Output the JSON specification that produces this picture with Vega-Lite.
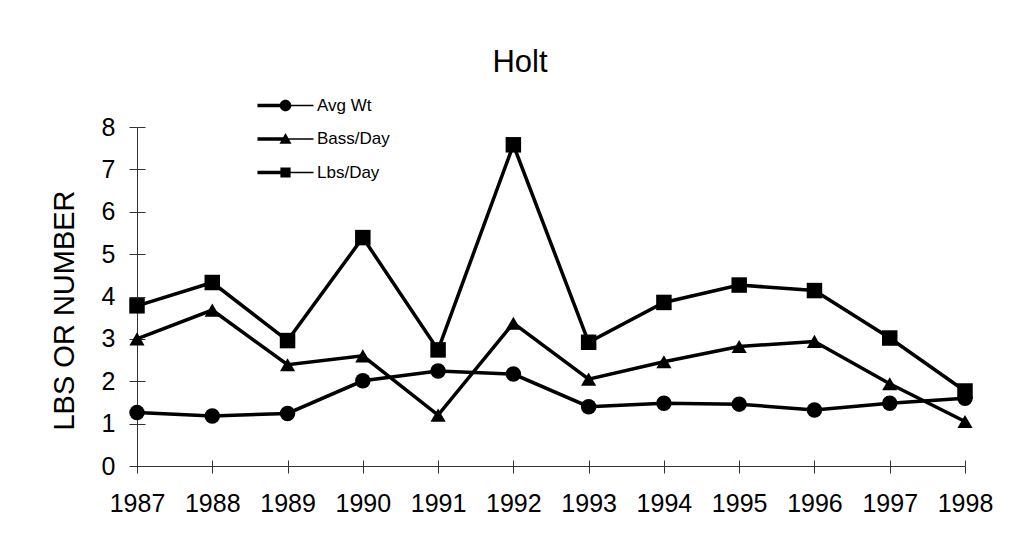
{
  "$schema": "https://vega.github.io/schema/vega-lite/v6.json",
  "width": 828,
  "height": 339,
  "autosize": {"type": "none"},
  "padding": {"left": 137, "top": 127, "right": 50, "bottom": 89},
  "background": "white",
  "config": {
    "view": {"stroke": null},
    "font": "Liberation Sans"
  },
  "title": {
    "text": "Holt",
    "fontSize": 31,
    "fontWeight": "normal",
    "font": "Liberation Sans",
    "color": "black",
    "anchor": "middle",
    "frame": "group",
    "dx": -31,
    "offset": 18.5
  },
  "data": {
    "values": [
      {"year": "1987", "series": "Avg Wt", "value": 1.26},
      {"year": "1988", "series": "Avg Wt", "value": 1.18},
      {"year": "1989", "series": "Avg Wt", "value": 1.24},
      {"year": "1990", "series": "Avg Wt", "value": 2.01},
      {"year": "1991", "series": "Avg Wt", "value": 2.24},
      {"year": "1992", "series": "Avg Wt", "value": 2.17},
      {"year": "1993", "series": "Avg Wt", "value": 1.40},
      {"year": "1994", "series": "Avg Wt", "value": 1.48},
      {"year": "1995", "series": "Avg Wt", "value": 1.46},
      {"year": "1996", "series": "Avg Wt", "value": 1.32},
      {"year": "1997", "series": "Avg Wt", "value": 1.48},
      {"year": "1998", "series": "Avg Wt", "value": 1.60},
      {"year": "1987", "series": "Bass/Day", "value": 3.00},
      {"year": "1988", "series": "Bass/Day", "value": 3.68},
      {"year": "1989", "series": "Bass/Day", "value": 2.39},
      {"year": "1990", "series": "Bass/Day", "value": 2.60},
      {"year": "1991", "series": "Bass/Day", "value": 1.20},
      {"year": "1992", "series": "Bass/Day", "value": 3.37},
      {"year": "1993", "series": "Bass/Day", "value": 2.05},
      {"year": "1994", "series": "Bass/Day", "value": 2.46},
      {"year": "1995", "series": "Bass/Day", "value": 2.82},
      {"year": "1996", "series": "Bass/Day", "value": 2.94},
      {"year": "1997", "series": "Bass/Day", "value": 1.94},
      {"year": "1998", "series": "Bass/Day", "value": 1.05},
      {"year": "1987", "series": "Lbs/Day", "value": 3.78},
      {"year": "1988", "series": "Lbs/Day", "value": 4.33},
      {"year": "1989", "series": "Lbs/Day", "value": 2.96},
      {"year": "1990", "series": "Lbs/Day", "value": 5.39},
      {"year": "1991", "series": "Lbs/Day", "value": 2.74},
      {"year": "1992", "series": "Lbs/Day", "value": 7.58},
      {"year": "1993", "series": "Lbs/Day", "value": 2.92},
      {"year": "1994", "series": "Lbs/Day", "value": 3.86},
      {"year": "1995", "series": "Lbs/Day", "value": 4.27},
      {"year": "1996", "series": "Lbs/Day", "value": 4.14},
      {"year": "1997", "series": "Lbs/Day", "value": 3.02},
      {"year": "1998", "series": "Lbs/Day", "value": 1.77}
    ]
  },
  "resolve": {
    "axis": {"x": "independent", "y": "independent"}
  },
  "layer": [
    {
      "mark": {"type": "line", "color": "black", "strokeWidth": 3.5},
      "encoding": {
        "x": {
          "field": "year",
          "type": "ordinal",
          "scale": {"type": "point", "padding": 0},
          "axis": {
            "orient": "bottom",
            "title": null,
            "labelAngle": 0,
            "labelFontSize": 25,
            "labelFont": "Liberation Sans",
            "labelColor": "black",
            "labelPadding": 18,
            "tickSize": 7,
            "tickColor": "#333",
            "tickWidth": 1,
            "domainColor": "#333",
            "domainWidth": 1
          }
        },
        "y": {
          "field": "value",
          "type": "quantitative",
          "scale": {"domain": [0, 8], "nice": false, "zero": true},
          "axis": {
            "orient": "left",
            "values": [0, 1, 2, 3, 4, 5, 6, 7, 8],
            "grid": false,
            "title": "LBS OR NUMBER",
            "titleFontSize": 29,
            "titleFont": "Liberation Sans",
            "titleFontWeight": "normal",
            "titleColor": "black",
            "titleAngle": -90,
            "titleAlign": "center",
            "titleBaseline": "middle",
            "titleX": -73,
            "titleY": 183,
            "labelFontSize": 25,
            "labelFont": "Liberation Sans",
            "labelColor": "black",
            "labelPadding": 14,
            "tickSize": 8,
            "tickColor": "#333",
            "tickWidth": 1,
            "domainColor": "#333",
            "domainWidth": 1
          }
        },
        "detail": {"field": "series"}
      }
    },
    {
      "transform": [{"filter": "datum.series === 'Avg Wt'"}],
      "mark": {"type": "point", "shape": "circle", "filled": true, "color": "black", "opacity": 1, "size": 240},
      "encoding": {
        "x": {
          "field": "year",
          "type": "ordinal",
          "axis": {"orient": "bottom", "labels": false, "domain": false, "title": null, "tickSize": -6, "tickColor": "#333", "tickWidth": 1}
        },
        "y": {
          "field": "value",
          "type": "quantitative",
          "axis": {"orient": "left", "labels": false, "domain": false, "title": null, "grid": false, "values": [0, 1, 2, 3, 4, 5, 6, 7, 8], "tickSize": -8, "tickColor": "#333", "tickWidth": 1}
        }
      }
    },
    {
      "transform": [{"filter": "datum.series === 'Bass/Day'"}],
      "mark": {"type": "point", "shape": "triangle-up", "filled": true, "color": "black", "opacity": 1, "size": 230},
      "encoding": {
        "x": {"field": "year", "type": "ordinal", "axis": null},
        "y": {"field": "value", "type": "quantitative", "axis": null}
      }
    },
    {
      "transform": [{"filter": "datum.series === 'Lbs/Day'"}],
      "mark": {"type": "point", "shape": "square", "filled": true, "color": "black", "opacity": 1, "size": 240},
      "encoding": {
        "x": {"field": "year", "type": "ordinal", "axis": null},
        "y": {"field": "value", "type": "quantitative", "axis": null}
      }
    },
    {
      "transform": [{"filter": "false"}],
      "mark": {"type": "point", "filled": true, "color": "black", "size": 144},
      "encoding": {
        "x": {"field": "year", "type": "ordinal", "axis": null},
        "y": {"field": "value", "type": "quantitative", "axis": null},
        "shape": {
          "field": "series",
          "type": "nominal",
          "scale": {
            "domain": ["Avg Wt", "Bass/Day", "Lbs/Day"],
            "range": [
              "M-4.67,-0.28L0,-0.28L0,0.28L-4.67,0.28Z M0,-0.14L4.67,-0.14L4.67,0.14L0,0.14Z M-0.96,0A0.96,0.96 0 1,1 0.96,0A0.96,0.96 0 1,1 -0.96,0Z",
              "M-4.67,-0.28L0,-0.28L0,0.28L-4.67,0.28Z M0,-0.14L4.67,-0.14L4.67,0.14L0,0.14Z M0,-1L1,0.8L-1,0.8Z",
              "M-4.67,-0.28L0,-0.28L0,0.28L-4.67,0.28Z M0,-0.14L4.67,-0.14L4.67,0.14L0,0.14Z M-0.85,-0.85L0.85,-0.85L0.85,0.85L-0.85,0.85Z"
            ]
          },
          "legend": {
            "title": null,
            "orient": "none",
            "legendX": 140,
            "legendY": -30,
            "labelFontSize": 17,
            "labelFont": "Liberation Sans",
            "labelColor": "black",
            "labelOffset": 23,
            "rowPadding": 15.5,
            "symbolSize": 144,
            "symbolFillColor": "black",
            "symbolStrokeWidth": 0,
            "symbolOpacity": 1
          }
        }
      }
    }
  ]
}
